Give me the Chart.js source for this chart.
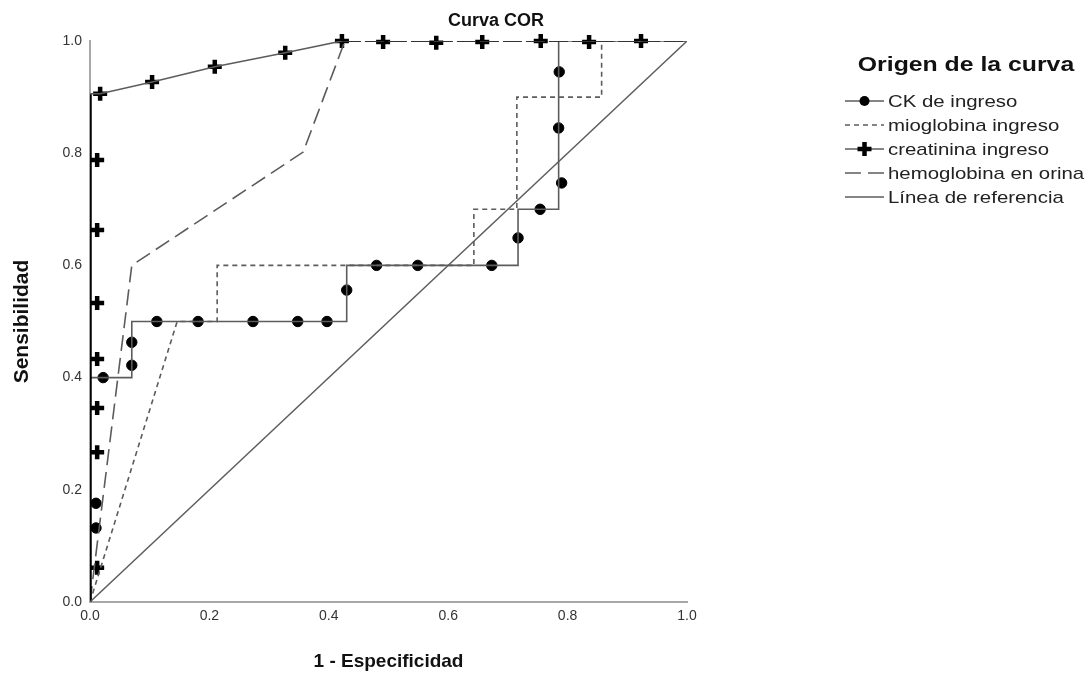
<!DOCTYPE html>
<html><head><meta charset="utf-8">
<script src="https://cdn.jsdelivr.net/npm/chart.js@4.4.1/dist/chart.umd.min.js"></script>
<style>html,body{margin:0;padding:0;background:#fff;}canvas{display:block;}</style>
</head><body>
<canvas id="c" width="1090" height="677"></canvas>
<script>
// ---- data ----
const chartTitle = 'Curva COR';
const xTitle = '1 - Especificidad';
const yTitle = 'Sensibilidad';
const legendTitle = 'Origen de la curva';
const seriesNames = ['CK de ingreso', 'mioglobina ingreso', 'creatinina ingreso', 'hemoglobina en orina', 'Línea de referencia'];
const tickLabels = ['0.0', '0.2', '0.4', '0.6', '0.8', '1.0'];
const tickValues = [0, 0.2, 0.4, 0.6, 0.8, 1.0];

// CK de ingreso: stepped curve + circle markers
const ckPathX = [0, 0, 0.07, 0.07, 0.43, 0.43, 0.717, 0.717, 0.785, 0.785, 1.0];
const ckPathY = [0, 0.4, 0.4, 0.5, 0.5, 0.6, 0.6, 0.7, 0.7, 1.0, 1.0];
const ckMarkX = [0.01, 0.01, 0.022, 0.07, 0.07, 0.112, 0.181, 0.273, 0.348, 0.397, 0.43, 0.48, 0.549, 0.673, 0.717, 0.754, 0.79, 0.785, 0.786];
const ckMarkY = [0.132, 0.176, 0.4, 0.422, 0.463, 0.5, 0.5, 0.5, 0.5, 0.5, 0.556, 0.6, 0.6, 0.6, 0.649, 0.7, 0.747, 0.845, 0.945];

// mioglobina ingreso: short dashes
const mioX = [0, 0.146, 0.213, 0.213, 0.643, 0.643, 0.715, 0.715, 0.857, 0.857, 1.0];
const mioY = [0, 0.5, 0.5, 0.6, 0.6, 0.7, 0.7, 0.9, 0.9, 1.0, 1.0];

// creatinina ingreso: line + plus markers
const creaPathX = [0, 0, 0.017, 0.104, 0.209, 0.327, 0.422, 1.0];
const creaPathY = [0, 0.906, 0.906, 0.927, 0.954, 0.979, 1.0, 1.0];
const creaMarkX = [0.012, 0.012, 0.012, 0.012, 0.012, 0.012, 0.012, 0.017, 0.104, 0.209, 0.327, 0.422, 0.491, 0.58, 0.657, 0.755, 0.836, 0.923];
const creaMarkY = [0.061, 0.267, 0.346, 0.433, 0.533, 0.663, 0.788, 0.906, 0.927, 0.954, 0.979, 1.0, 0.998, 0.997, 0.998, 1.0, 0.998, 1.0];

// hemoglobina en orina: long dashes
const hemoX = [0, 0.07, 0.357, 0.427, 1.0];
const hemoY = [0, 0.6, 0.802, 1.0, 1.0];

// reference line
const refX = [0, 1];
const refY = [0, 1];

// ---- helpers ----
const zip = (xs, ys) => xs.map((x, i) => ({x: x, y: ys[i]}));
const LINE = '#5c5c5c';
const FONT = '"Liberation Sans", Arial, sans-serif';

const styles = {
  ck:   {color: LINE, dash: [], marker: 'circle'},
  mio:  {color: LINE, dash: [5, 4], marker: null},
  crea: {color: LINE, dash: [], marker: 'cross'},
  hemo: {color: LINE, dash: [16, 7], marker: null},
  ref:  {color: LINE, dash: [], marker: null}
};

const onLeft = c => c.p0.parsed.x === 0 && c.p1.parsed.x === 0;
const onTop = c => c.p0.parsed.y === 1 && c.p1.parsed.y === 1;

const datasets = [
  {label: seriesNames[4], data: zip(refX, refY), borderColor: LINE, borderWidth: 1.4, pointRadius: 0, showLine: true, fill: false},
  {label: seriesNames[2], data: zip(creaPathX, creaPathY), borderColor: LINE, borderWidth: 1.6, pointRadius: 0, showLine: true, fill: false,
    segment: {
      borderColor: c => onLeft(c) ? '#000' : (onTop(c) ? '#333' : LINE),
      borderWidth: c => onLeft(c) ? 3.5 : (onTop(c) ? 2 : 1.6),
      borderDash: c => onTop(c) ? styles.hemo.dash : undefined
    }},
  {label: seriesNames[3], data: zip(hemoX, hemoY), borderColor: LINE, borderWidth: 1.6, borderDash: styles.hemo.dash, pointRadius: 0, showLine: true, fill: false,
    segment: {borderColor: c => onTop(c) ? '#333' : LINE, borderWidth: c => onTop(c) ? 2 : 1.6}},
  {label: seriesNames[1], data: zip(mioX, mioY), borderColor: LINE, borderWidth: 1.6, borderDash: styles.mio.dash, pointRadius: 0, showLine: true, fill: false},
  {label: seriesNames[0], data: zip(ckPathX, ckPathY), borderColor: LINE, borderWidth: 1.6, pointRadius: 0, showLine: true, fill: false},
  {label: seriesNames[0] + ' marcas', data: zip(ckMarkX, ckMarkY), showLine: false, pointStyle: 'circle', pointRadius: 5.2, pointBackgroundColor: '#000', pointBorderColor: '#000', pointBorderWidth: 1, clip: false},
  {label: seriesNames[2] + ' marcas', data: zip(creaMarkX, creaMarkY), showLine: false, pointStyle: 'cross', pointRadius: 7, pointBorderColor: '#000', pointBorderWidth: 4.5, clip: false}
];

function stretchedText(ctx, text, x, y, sx, align) {
  ctx.save();
  ctx.translate(x, y);
  ctx.scale(sx, 1);
  ctx.textAlign = align;
  ctx.fillText(text, 0, 0);
  ctx.restore();
}

const decor = {
  id: 'decor',
  afterDraw(chart) {
    const ctx = chart.ctx;
    const ca = chart.chartArea;
    ctx.save();
    ctx.fillStyle = '#111';
    ctx.textAlign = 'center';
    ctx.textBaseline = 'middle';
    // chart title
    ctx.font = 'bold 18px ' + FONT;
    ctx.fillText(chartTitle, 496, 21);
    // x title
    ctx.font = 'bold 19px ' + FONT;
    ctx.fillText(xTitle, (ca.left + ca.right) / 2, 662);
    // y title
    ctx.save();
    ctx.font = 'bold 21px ' + FONT;
    ctx.translate(22, (ca.top + ca.bottom) / 2);
    ctx.rotate(-Math.PI / 2);
    ctx.fillText(yTitle, 0, 0);
    ctx.restore();
    // legend
    ctx.font = 'bold 20px ' + FONT;
    stretchedText(ctx, legendTitle, 966, 65, 1.24, 'center');
    const rows = [
      {name: seriesNames[0], s: styles.ck},
      {name: seriesNames[1], s: styles.mio},
      {name: seriesNames[2], s: styles.crea},
      {name: seriesNames[3], s: styles.hemo},
      {name: seriesNames[4], s: styles.ref}
    ];
    const x0 = 845, x1 = 884, y0 = 101, dy = 24;
    ctx.font = '17px ' + FONT;
    rows.forEach((r, i) => {
      const y = y0 + i * dy;
      ctx.strokeStyle = r.s.color;
      ctx.lineWidth = 1.6;
      ctx.setLineDash(r.s.dash);
      ctx.beginPath();
      ctx.moveTo(x0, y);
      ctx.lineTo(x1, y);
      ctx.stroke();
      ctx.setLineDash([]);
      const mx = (x0 + x1) / 2;
      if (r.s.marker === 'circle') {
        ctx.fillStyle = '#000';
        ctx.beginPath();
        ctx.arc(mx, y, 5, 0, Math.PI * 2);
        ctx.fill();
      } else if (r.s.marker === 'cross') {
        ctx.strokeStyle = '#000';
        ctx.lineWidth = 4.5;
        ctx.beginPath();
        ctx.moveTo(mx - 7, y); ctx.lineTo(mx + 7, y);
        ctx.moveTo(mx, y - 7); ctx.lineTo(mx, y + 7);
        ctx.stroke();
      }
      ctx.fillStyle = '#222';
      stretchedText(ctx, r.name, 888, y + 1, 1.2, 'left');
    });
    ctx.restore();
  }
};

new Chart(document.getElementById('c'), {
  type: 'scatter',
  data: {datasets: datasets},
  options: {
    responsive: false,
    animation: false,
    layout: {padding: {left: 0, right: 403, top: 41, bottom: 0}},
    plugins: {legend: {display: false}, tooltip: {enabled: false}, title: {display: false}},
    elements: {line: {tension: 0}},
    scales: {
      x: {
        type: 'linear', min: 0, max: 1,
        afterFit: s => { s.height = 75; },
        afterBuildTicks: s => { s.ticks = tickValues.map(v => ({value: v})); },
        grid: {display: false, drawTicks: false},
        border: {display: true, color: '#a8a8a8', width: 2},
        ticks: {padding: 6, color: '#333', font: {family: FONT, size: 14}, callback: (v, i) => tickLabels[i]}
      },
      y: {
        type: 'linear', min: 0, max: 1,
        afterFit: s => { s.width = 90; },
        afterBuildTicks: s => { s.ticks = tickValues.map(v => ({value: v})); },
        grid: {display: false, drawTicks: false},
        border: {display: true, color: '#a8a8a8', width: 2},
        ticks: {padding: 8, color: '#333', font: {family: FONT, size: 14}, callback: (v, i) => tickLabels[i]}
      }
    }
  },
  plugins: [decor]
});
</script>
</body></html>
